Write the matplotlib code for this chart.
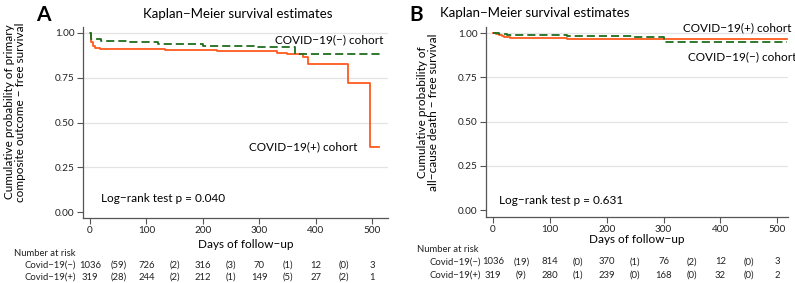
import numpy as np
import matplotlib
matplotlib.use("Agg")
import matplotlib.pyplot as plt
import matplotlib.transforms as mtransforms

plt.rcParams['font.family'] = ['Lato', 'DejaVu Sans']

# Panel A: primary composite outcome
a_neg_t = [0, 1, 20, 70, 120, 200, 290, 363, 518]
a_neg_s = [1.0, 0.965, 0.957, 0.948, 0.940, 0.930, 0.924, 0.881, 0.881]
a_pos_t = [0, 2, 5, 9, 18, 133, 225, 331, 349, 378, 387, 457, 496, 512]
a_pos_s = [1.0, 0.95, 0.93, 0.916, 0.909, 0.903, 0.898, 0.890, 0.883, 0.866, 0.825, 0.722, 0.365, 0.365]

# Panel B: all-cause death
b_neg_t = [0, 10, 25, 60, 130, 247, 300, 518]
b_neg_s = [1.0, 0.995, 0.99, 0.989, 0.983, 0.976, 0.950, 0.950]
b_pos_t = [0, 5, 10, 15, 20, 25, 30, 40, 130, 518]
b_pos_s = [1.0, 0.995, 0.99, 0.985, 0.98, 0.975, 0.972, 0.970, 0.966, 0.966]

# Number at risk tables (days 0, 50, ..., 500; odd columns are events in brackets)
risk_days = [0, 50, 100, 150, 200, 250, 300, 350, 400, 450, 500]
a_risk_neg = ['1036', '(59)', '726', '(2)', '316', '(3)', '70', '(1)', '12', '(0)', '3']
a_risk_pos = ['319', '(28)', '244', '(2)', '212', '(1)', '149', '(5)', '27', '(2)', '1']
b_risk_neg = ['1036', '(19)', '814', '(0)', '370', '(1)', '76', '(2)', '12', '(0)', '3']
b_risk_pos = ['319', '(9)', '280', '(1)', '239', '(0)', '168', '(0)', '32', '(0)', '2']

orange = '#FF5A1E'
green = '#1F6E1F'
axcol = '#555555'
W, H = 795, 283

fig = plt.figure(figsize=(7.95, 2.83), dpi=100)


def px(x, y):
    return x / W, 1 - y / H


def panel(rect, neg_t, neg_s, pos_t, pos_s, xlim, ylim):
    ax = fig.add_axes(rect)
    ax.step(pos_t, pos_s, where='post', color=orange, lw=1.3, zorder=3)
    ax.step(neg_t, neg_s, where='post', color=green, lw=1.3, ls=(0, (4.5, 2.2)), zorder=4)
    ax.set_xlim(*xlim)
    ax.set_ylim(*ylim)
    ax.set_xticks([0, 100, 200, 300, 400, 500])
    ax.set_yticks([0, 0.25, 0.5, 0.75, 1.0])
    ax.set_yticklabels(['0.00', '0.25', '0.50', '0.75', '1.00'])
    for y in [0.25, 0.5, 0.75, 1.0]:
        ax.axhline(y, color='#e4e4e4', lw=0.9, zorder=1)
    for s in ['top', 'right']:
        ax.spines[s].set_visible(False)
    for s in ['left', 'bottom']:
        ax.spines[s].set_color(axcol)
        ax.spines[s].set_linewidth(0.9)
    ax.tick_params(colors=axcol, labelcolor='#222222', labelsize=7.2, length=4, width=0.8, pad=2)
    return ax


def risk_table(ax, y_head, y1, y2, x_head, x_lab, neg, pos):
    tr = mtransforms.blended_transform_factory(ax.transData, fig.transFigure)
    fig.text(*px(x_head, y_head), 'Number at risk', fontsize=6.8, va='center', ha='left', color='#222222')
    fig.text(*px(x_lab, y1), 'Covid−19(−)', fontsize=6.8, va='center', ha='right', color='#222222')
    fig.text(*px(x_lab, y2), 'Covid−19(+)', fontsize=6.8, va='center', ha='right', color='#222222')
    for d, n1, n2 in zip(risk_days, neg, pos):
        ax.text(d, 1 - y1 / H, n1, transform=tr, fontsize=6.8, ha='center', va='center', color='#222222')
        ax.text(d, 1 - y2 / H, n2, transform=tr, fontsize=6.8, ha='center', va='center', color='#222222')


# ---- Panel A ----
axA = panel([83 / W, 1 - 218 / H, 305 / W, 191 / H], a_neg_t, a_neg_s, a_pos_t, a_pos_s,
            (-12.4, 528), (-0.0335, 1.0335))
axA.text(328, 0.96, 'COVID−19(−) cohort', fontsize=8.5, va='center', ha='left')
axA.text(282, 0.363, 'COVID−19(+) cohort', fontsize=8.5, va='center', ha='left')
axA.text(20, 0.073, 'Log−rank test p = 0.040', fontsize=8.5, va='center', ha='left')
fig.text(*px(238, 14), 'Kaplan−Meier survival estimates', fontsize=9.5, ha='center', va='center')
fig.text(*px(36, 15), 'A', fontsize=15, fontweight='bold', ha='left', va='center')
fig.text(*px(15, 112), 'Cumulative probability of primary\ncomposite outcome − free survival',
         fontsize=8.5, rotation=90, ha='center', va='center', linespacing=0.95)
fig.text(*px(246, 245), 'Days of follow−up', fontsize=8.5, ha='center', va='center')
risk_table(axA, 253, 265, 277, 14, 76, a_risk_neg, a_risk_pos)

# ---- Panel B ----
axB = panel([486 / W, 1 - 217 / H, 302 / W, 190 / H], b_neg_t, b_neg_s, b_pos_t, b_pos_s,
            (-12.3, 519), (-0.0395, 1.034))
axB.text(334, 1.028, 'COVID−19(+) cohort', fontsize=8.5, va='center', ha='left')
axB.text(343, 0.864, 'COVID−19(−) cohort', fontsize=8.5, va='center', ha='left')
axB.text(11, 0.051, 'Log−rank test p = 0.631', fontsize=8.5, va='center', ha='left')
fig.text(*px(440, 13), 'Kaplan−Meier survival estimates', fontsize=9.5, ha='left', va='center')
fig.text(*px(409, 15), 'B', fontsize=15, fontweight='bold', ha='left', va='center')
fig.text(*px(428, 112), 'Cumulative probability of\nall−cause death − free survival',
         fontsize=8.5, rotation=90, ha='center', va='center', linespacing=0.95)
fig.text(*px(637, 239.5), 'Days of follow−up', fontsize=8.5, ha='center', va='center')
risk_table(axB, 249, 262, 275, 417, 481, b_risk_neg, b_risk_pos)

fig.savefig('out.png', dpi=100, facecolor='white')
